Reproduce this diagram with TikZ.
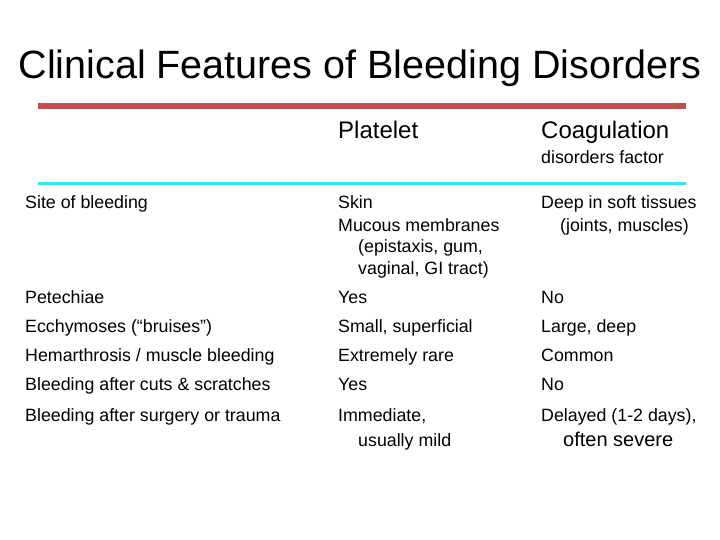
\documentclass[tikz,border=0pt]{standalone}
\usepackage{fontspec}
\setmainfont{Liberation Sans}
\definecolor{redline}{HTML}{C0504D}
\definecolor{cyanline}{HTML}{33E6F0}
\begin{document}
\begin{tikzpicture}[x=1pt,y=-1pt,
  cell/.style={anchor=base west,inner sep=0pt,font=\fontsize{17.8}{20}\selectfont},
  head/.style={anchor=base west,inner sep=0pt,font=\fontsize{24}{28}\selectfont}]
\useasboundingbox (0,0) rectangle (720,540);
\node[anchor=base,inner sep=0pt,font=\fontsize{39.5}{44}\selectfont] (title) at (360,79) {Clinical Features of Bleeding Disorders};
\coordinate (r1) at (38,106); \coordinate (r2) at (686,106);
\draw[redline,line width=6pt] (r1) -- (r2);
\coordinate (c1) at (38,184); \coordinate (c2) at (686,184);
\draw[cyanline,line width=3pt] (c1) -- (c2);
\node[head] (hp) at (338,139) {Platelet};
\node[head] (hc) at (541,139) {Coagulation};
\node[cell] (hc2) at (541,164) {disorders factor};
% rows
\node[cell] (a1) at (25,209) {Site of bleeding};
\node[cell] (b1) at (338,209) {Skin};
\node[cell] (b1b) at (338,231) {Mucous membranes};
\node[cell] (b1c) at (358,252) {(epistaxis, gum,};
\node[cell] (b1d) at (358,274) {vaginal, GI tract)};
\node[cell] (c1t) at (541,209) {Deep in soft tissues};
\node[cell] (c1u) at (560,231) {(joints, muscles)};
\node[cell] (a2) at (25,303) {Petechiae};
\node[cell] (b2) at (338,303) {Yes};
\node[cell] (c2t) at (541,303) {No};
\node[cell] (a3) at (25,332) {Ecchymoses (“bruises”)};
\node[cell] (b3) at (338,332) {Small, superficial};
\node[cell] (c3) at (541,332) {Large, deep};
\node[cell] (a4) at (25,361) {Hemarthrosis / muscle bleeding};
\node[cell] (b4) at (338,361) {Extremely rare};
\node[cell] (c4) at (541,361) {Common};
\node[cell] (a5) at (25,390) {Bleeding after cuts \& scratches};
\node[cell] (b5) at (338,390) {Yes};
\node[cell] (c5) at (541,390) {No};
\node[cell] (a6) at (25,421) {Bleeding after surgery or trauma};
\node[cell] (b6) at (338,421) {Immediate,};
\node[cell] (b6b) at (358,446) {usually mild};
\node[cell] (c6) at (541,421) {Delayed (1-2 days),};
\node[cell,font=\fontsize{20}{22}\selectfont] (c6b) at (563,446) {often severe};
\end{tikzpicture}
\end{document}
